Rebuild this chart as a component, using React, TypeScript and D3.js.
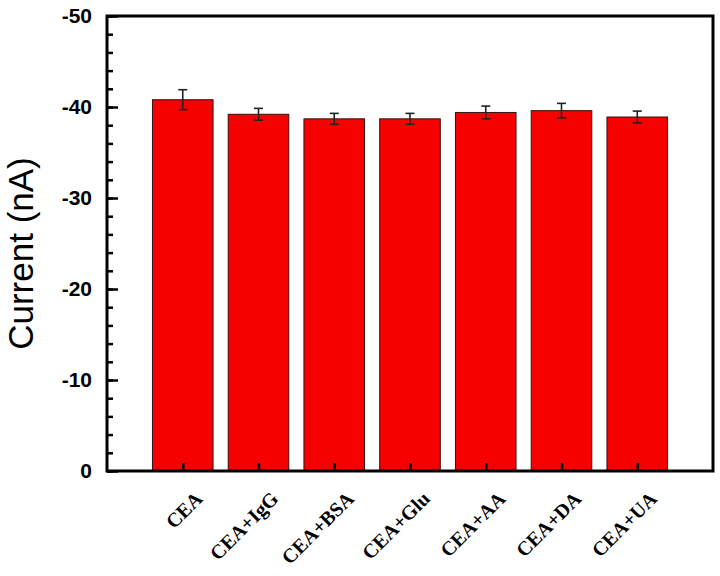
import React, { useEffect, useRef } from 'react';
import * as d3 from 'd3';

const categories = ['CEA', 'CEA+IgG', 'CEA+BSA', 'CEA+Glu', 'CEA+AA', 'CEA+DA', 'CEA+UA'];
const currents = [-40.8, -39.2, -38.7, -38.7, -39.4, -39.6, -38.9];
const errors = [1.1, 0.65, 0.6, 0.6, 0.7, 0.8, 0.65];
const yMajorTicks = [0, -10, -20, -30, -40, -50];

const App = () => {
  const svgRef = useRef<SVGSVGElement | null>(null);

  useEffect(() => {
    if (!svgRef.current) return;
    const svg = d3.select(svgRef.current);
    svg.selectAll('*').remove();

    const left = 107, right = 713, top = 16, bottom = 471;

    // categories sit at 1..n on a 0..n+1 axis
    const x = d3.scaleLinear().domain([0, categories.length + 1]).range([left, right]);
    const y = d3.scaleLinear().domain([0, -50]).range([bottom, top]);
    const barW = (x(1) - x(0)) * 0.8;

    const data = categories.map((c, i) => ({ c, i, v: currents[i], e: errors[i] }));

    // bars
    svg.append('g')
      .selectAll('rect')
      .data(data)
      .enter()
      .append('rect')
      .attr('x', d => x(d.i + 1) - barW / 2)
      .attr('width', barW)
      .attr('y', d => y(d.v))
      .attr('height', d => y(0) - y(d.v))
      .attr('fill', '#f70000')
      .attr('stroke', '#3a1010')
      .attr('stroke-width', 1);

    // error bars
    const eb = svg.append('g').attr('stroke', '#222').attr('stroke-width', 1.6);
    data.forEach(d => {
      const cx = x(d.i + 1);
      eb.append('line').attr('x1', cx).attr('x2', cx).attr('y1', y(d.v - d.e)).attr('y2', y(d.v + d.e));
      eb.append('line').attr('x1', cx - 4.5).attr('x2', cx + 4.5).attr('y1', y(d.v - d.e)).attr('y2', y(d.v - d.e));
      eb.append('line').attr('x1', cx - 4.5).attr('x2', cx + 4.5).attr('y1', y(d.v + d.e)).attr('y2', y(d.v + d.e));
    });

    // minor y ticks (inside)
    const yMinor = svg.append('g')
      .attr('transform', `translate(${left},0)`)
      .call(d3.axisLeft(y).tickValues(d3.range(0, -51, -2)).tickSize(-6).tickFormat(() => ''));
    yMinor.select('.domain').remove();
    yMinor.selectAll('line').attr('stroke', '#000').attr('stroke-width', 2.5);

    // major y ticks, plain hyphen for the minus sign
    const yAxis = svg.append('g')
      .attr('transform', `translate(${left},0)`)
      .call(d3.axisLeft(y).tickValues(yMajorTicks).tickSize(-11).tickPadding(15).tickFormat(d => String(d)));
    yAxis.select('.domain').remove();
    yAxis.selectAll('line').attr('stroke', '#000').attr('stroke-width', 2.5);
    yAxis.selectAll('text')
      .attr('fill', '#000')
      .style('font-family', '"Liberation Sans", Arial, sans-serif')
      .style('font-size', '21px')
      .style('font-weight', 'bold');

    // x ticks (inside, pointing up)
    const xAxis = svg.append('g')
      .attr('transform', `translate(0,${bottom})`)
      .call(d3.axisBottom(x).tickValues(d3.range(1, categories.length + 1)).tickSize(-8).tickFormat(() => ''));
    xAxis.select('.domain').remove();
    xAxis.selectAll('line').attr('stroke', '#000').attr('stroke-width', 2.5);

    // frame
    svg.append('rect')
      .attr('x', left)
      .attr('y', top)
      .attr('width', right - left)
      .attr('height', bottom - top)
      .attr('fill', 'none')
      .attr('stroke', '#000')
      .attr('stroke-width', 3);

    // category labels, rotated 45 degrees
    const labels = svg.append('g')
      .selectAll('g')
      .data(data)
      .enter()
      .append('g')
      .attr('transform', d => `translate(${x(d.i + 1) + 21}, 500) rotate(-45)`);
    labels.append('text')
      .attr('text-anchor', 'end')
      .attr('font-family', '"Liberation Serif", "Times New Roman", serif')
      .attr('font-size', 20)
      .attr('font-weight', 'bold')
      .attr('fill', '#000')
      .text(d => d.c);

    // y title
    const tx = 33, ty = (top + bottom) / 2 + 10;
    svg.append('text')
      .attr('x', tx)
      .attr('y', ty)
      .attr('transform', `rotate(-90 ${tx} ${ty})`)
      .attr('text-anchor', 'middle')
      .attr('font-family', '"Liberation Sans", Arial, sans-serif')
      .attr('font-size', 35)
      .attr('fill', '#000')
      .text('Current (nA)');
  }, []);

  return (
    <div style={{ position: 'absolute', left: 0, top: 0, width: 720, height: 576, background: '#fff' }}>
      <svg ref={svgRef} width={720} height={576} style={{ display: 'block' }}></svg>
    </div>
  );
};

export default App;
